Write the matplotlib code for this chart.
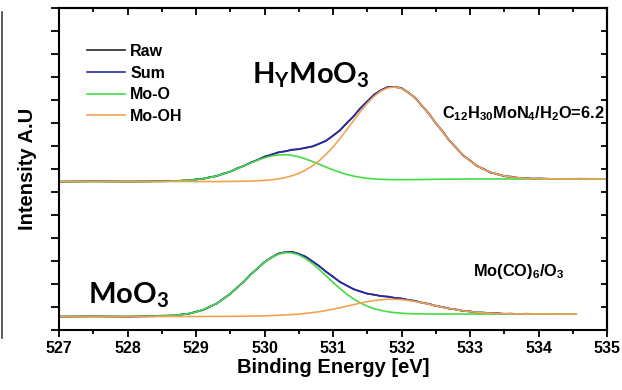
import numpy as np
import matplotlib
matplotlib.use("Agg")
import matplotlib.pyplot as plt
from matplotlib.lines import Line2D

plt.rcParams['font.family'] = ['Liberation Sans', 'DejaVu Sans']
plt.rcParams['font.weight'] = 'bold'
plt.rcParams['mathtext.default'] = 'regular'

# ---- upper spectrum: C12H30MoN4/H2O=6.2 (HyMoO3) ----
x_top = np.concatenate([[527.0, 527.5, 528.0, 528.3],
                        np.round(np.arange(528.6, 534.05, 0.1), 1),
                        [534.3, 534.6, 535.0]])

raw_top = [148.2, 148.9, 148.4, 148.7,
           149.3, 148.7, 149.6, 149.4, 150.8, 151.0, 152.9, 153.8, 156.5, 158.2,
           161.7, 164.0, 167.6, 170.0, 173.5, 175.1, 177.8, 178.5, 180.4, 180.7,
           182.4, 183.4, 186.5, 189.1, 194.5, 199.4, 207.0, 213.5, 222.0, 228.4,
           235.5, 239.6, 243.1, 243.0, 242.0, 237.3, 232.2, 224.0, 216.5, 206.7,
           198.7, 189.2, 182.3, 174.4, 169.7, 164.0, 161.1, 157.3, 156.0, 153.7,
           153.4, 151.9, 152.2, 151.1, 151.6,
           150.8, 151.3, 150.9]
sum_top = [148.5, 148.5, 148.5, 148.5,
           148.8, 149.0, 149.2, 149.7, 150.3, 151.3, 152.5, 154.1, 156.1, 158.5,
           161.3, 164.3, 167.3, 170.3, 173.1, 175.5, 177.4, 178.9, 180.0, 181.0,
           182.0, 183.7, 186.1, 189.5, 194.1, 199.8, 206.6, 213.9, 221.6, 228.8,
           235.1, 239.9, 242.7, 243.3, 241.6, 237.7, 231.8, 224.4, 216.0, 207.1,
           198.2, 189.6, 181.8, 174.9, 169.2, 164.4, 160.6, 157.8, 155.6, 154.1,
           153.0, 152.3, 151.8, 151.5, 151.3,
           151.1, 151.0, 151.0]
moo_top = [148.5, 148.5, 148.5, 148.5,
           148.8, 149.0, 149.2, 149.7, 150.3, 151.3, 152.5, 154.1, 156.1, 158.5,
           161.2, 164.1, 167.0, 169.8, 172.2, 174.0, 175.0, 175.3, 174.6, 173.2,
           171.0, 168.5, 165.7, 162.8, 160.1, 157.7, 155.6, 153.9, 152.7, 151.7,
           151.1, 150.7, 150.5, 150.3, 150.3, 150.4, 150.4, 150.5, 150.6, 150.7,
           150.8, 150.8, 150.9, 150.9, 151.0, 151.0, 151.0, 151.0, 151.0, 151.0,
           151.0, 151.0, 151.0, 151.0, 151.0,
           151.0, 151.0, 151.0]
mooh_top = [148.5, 148.5, 148.5, 148.5,
            148.5, 148.5, 148.5, 148.5, 148.5, 148.5, 148.5, 148.5, 148.5, 148.6,
            148.7, 148.8, 148.9, 149.2, 149.6, 150.2, 151.1, 152.4, 154.2, 156.7,
            159.9, 164.2, 169.4, 175.8, 183.1, 191.3, 200.3, 209.4, 218.4, 226.7,
            233.7, 239.0, 242.1, 243.0, 241.5, 237.6, 231.8, 224.4, 216.0, 207.1,
            198.2, 189.6, 181.8, 174.9, 169.2, 164.4, 160.6, 157.8, 155.6, 154.1,
            153.0, 152.3, 151.8, 151.5, 151.3,
            151.1, 151.0, 151.0]

# ---- lower spectrum: Mo(CO)6/O3 (MoO3) ----
x_bot = np.concatenate([[527.0, 527.5, 528.0, 528.3],
                        np.round(np.arange(528.6, 533.85, 0.1), 1),
                        [534.2, 534.55]])

raw_bot = [13.3, 13.8, 13.2, 13.9,
           14.5, 14.4, 15.8, 16.2, 18.4, 19.9, 23.3, 26.3, 31.4, 36.0,
           42.6, 48.3, 55.8, 61.6, 68.1, 72.3, 76.5, 77.6, 78.2, 76.0,
           73.5, 68.5, 64.0, 58.1, 53.5, 48.0, 44.6, 40.7, 38.7, 36.2,
           35.4, 33.8, 33.5, 32.0, 31.6, 29.9, 29.2, 27.1, 26.2, 24.0,
           23.1, 21.2, 20.6, 18.9, 18.7, 17.4, 17.5, 16.5, 16.8, 16.0,
           16.4, 15.9, 16.3,
           15.8, 16.1]
sum_bot = [13.5, 13.5, 13.5, 13.6,
           14.2, 14.7, 15.4, 16.5, 18.0, 20.2, 23.0, 26.6, 31.0, 36.3,
           42.2, 48.6, 55.4, 61.9, 67.8, 72.6, 76.1, 77.9, 77.9, 76.3,
           73.1, 68.8, 63.7, 58.4, 53.1, 48.3, 44.3, 41.0, 38.4, 36.5,
           35.1, 34.1, 33.2, 32.3, 31.3, 30.2, 28.9, 27.4, 25.9, 24.3,
           22.8, 21.5, 20.3, 19.2, 18.4, 17.7, 17.2, 16.8, 16.5, 16.3,
           16.2, 16.1, 16.1,
           16.0, 16.0]
moo_bot = [13.5, 13.5, 13.5, 13.6,
           14.2, 14.7, 15.4, 16.5, 18.0, 20.2, 23.0, 26.6, 31.0, 36.3,
           42.2, 48.6, 55.4, 61.9, 67.7, 72.4, 75.7, 77.4, 77.1, 75.1,
           71.4, 66.4, 60.5, 54.1, 47.6, 41.5, 35.9, 31.1, 27.1, 23.8,
           21.3, 19.6, 18.2, 17.4, 16.8, 16.4, 16.2, 16.1, 16.0, 15.9,
           16.0, 16.0, 16.0, 16.0, 16.0, 16.0, 16.0, 16.0, 16.0, 16.0,
           16.0, 16.0, 16.0,
           16.0, 16.0]
mooh_bot = [13.5, 13.5, 13.5, 13.5,
            13.5, 13.5, 13.5, 13.5, 13.5, 13.5, 13.6, 13.6, 13.6, 13.7,
            13.7, 13.8, 13.9, 14.0, 14.2, 14.4, 14.7, 15.0, 15.4, 15.9,
            16.6, 17.4, 18.3, 19.5, 20.8, 22.2, 23.8, 25.4, 26.9, 28.3,
            29.4, 30.2, 30.7, 30.7, 30.3, 29.6, 28.5, 27.2, 25.8, 24.3,
            22.8, 21.5, 20.3, 19.2, 18.4, 17.7, 17.2, 16.8, 16.5, 16.3,
            16.2, 16.1, 16.1,
            16.0, 16.0]

labels = ['Raw', 'Sum', 'Mo-O', 'Mo-OH']
colors = ['#262626', '#2a2aa8', '#45dc45', '#f2a352']

W, H = 622, 390
fig = plt.figure(figsize=(W / 100, H / 100), dpi=100)
ax = fig.add_axes([59 / W, 60 / H, 548 / W, 322 / H])

for ys, c, lab in zip([raw_top, sum_top, moo_top, mooh_top], colors, labels):
    ax.plot(x_top, ys, color=c, lw=1.2, label=lab)
for ys, c in zip([raw_bot, sum_bot, moo_bot, mooh_bot], colors):
    ax.plot(x_bot, ys, color=c, lw=1.2)

ax.set_xlim(527, 535)
ax.set_ylim(0, 322)
xmaj = np.arange(527, 536, 1)
xmin = np.arange(527.5, 535, 1)
yt = np.linspace(0, 322, 15)
ax.set_xticks(xmaj)
ax.set_xticks(xmin, minor=True)
ax.set_yticks(yt)
ax.tick_params(axis='x', which='major', direction='out', length=5, width=1.3,
               labelsize=11.5, pad=3)
ax.tick_params(axis='x', which='minor', direction='out', length=3, width=1.3)
ax.tick_params(axis='y', direction='out', length=5.5, width=1.3, labelleft=False)
for s in ax.spines.values():
    s.set_linewidth(1.5)

top = ax.secondary_xaxis('top')
top.set_xticks(xmaj)
top.set_xticks(xmin, minor=True)
top.tick_params(which='major', direction='in', length=5, width=1.3, labeltop=False)
top.tick_params(which='minor', direction='in', length=3, width=1.3)
top.spines['top'].set_linewidth(1.5)

right = ax.secondary_yaxis('right')
right.set_yticks(yt)
right.tick_params(direction='in', length=4, width=1.3, labelright=False)
right.spines['right'].set_linewidth(1.5)

ax.set_xlabel('Binding Energy [eV]', fontsize=14.5, fontweight='bold')
ax.xaxis.set_label_coords(0.5, (330 - 358) / 322)
ax.set_ylabel('Intensity A.U', fontsize=14.5, fontweight='bold')
ax.yaxis.set_label_coords((37 - 59) / 548, 0.5)

ax.legend(loc='upper left', bbox_to_anchor=(87 / W, 1 - 44 / H),
          bbox_transform=fig.transFigure, frameon=False, fontsize=11.5,
          handlelength=2.4, handletextpad=0.3, labelspacing=0.41,
          borderpad=0, borderaxespad=0)

big = dict(family=['Lato', 'DejaVu Sans'], fontweight='bold', fontsize=21,
           va='baseline', ha='left')
fig.text(252 / W, 1 - 84 / H, r'H$_\mathdefault{Y}$MoO$_\mathdefault{3}$', **big)
fig.text(88 / W, 1 - 304 / H, r'MoO$_\mathdefault{3}$', **big)

small = dict(family=['Liberation Sans Narrow', 'Liberation Sans'],
             fontweight='bold', fontsize=11.8, va='baseline', ha='left')
fig.text(442 / W, 1 - 118 / H,
         r'C$_\mathdefault{12}$H$_\mathdefault{30}$MoN$_\mathdefault{4}$/'
         r'H$_\mathdefault{2}$O=6.2', **small)
fig.text(473 / W, 1 - 276 / H, r'Mo(CO)$_\mathdefault{6}$/O$_\mathdefault{3}$', **small)

# edge of the neighbouring panel
fig.add_artist(Line2D([2 / W, 2 / W], [1 - 12 / H, 1 - 338 / H],
                      transform=fig.transFigure, color='#404040', lw=1.2))

fig.savefig('out.png', dpi=100)
